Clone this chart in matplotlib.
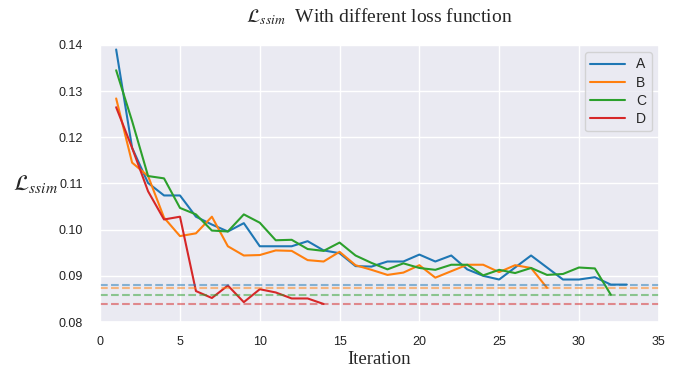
import matplotlib
matplotlib.use("Agg")
import matplotlib.pyplot as plt
import seaborn as sns
import numpy as np

sns.set_theme(style="darkgrid")
plt.rcParams['font.family'] = ['Liberation Sans', 'DejaVu Sans']
plt.rcParams['mathtext.fontset'] = 'stix'

series_names = ["A", "B", "C", "D"]
A = [0.1390, 0.1177, 0.1101, 0.1074, 0.1074, 0.1028, 0.1011, 0.0996, 0.1014, 0.0964,
     0.0964, 0.0964, 0.0975, 0.0955, 0.0949, 0.0921, 0.0920, 0.0931, 0.0931, 0.0946,
     0.0931, 0.0944, 0.0914, 0.0900, 0.0892, 0.0918, 0.0944, 0.0918, 0.0892, 0.0892,
     0.0897, 0.0881, 0.0881]
B = [0.1284, 0.1145, 0.1116, 0.1026, 0.0986, 0.0992, 0.1028, 0.0964, 0.0944, 0.0945,
     0.0955, 0.0954, 0.0934, 0.0931, 0.0952, 0.0923, 0.0913, 0.0902, 0.0907, 0.0923,
     0.0896, 0.0910, 0.0924, 0.0924, 0.0908, 0.0923, 0.0917, 0.0874]
C = [0.1345, 0.1235, 0.1116, 0.1111, 0.1047, 0.1033, 0.0998, 0.0996, 0.1033, 0.1015,
     0.0977, 0.0978, 0.0958, 0.0954, 0.0972, 0.0944, 0.0928, 0.0914, 0.0927, 0.0917,
     0.0913, 0.0924, 0.0924, 0.0901, 0.0913, 0.0906, 0.0917, 0.0902, 0.0904, 0.0918,
     0.0916, 0.0859]
D = [0.1265, 0.1177, 0.1083, 0.1022, 0.1028, 0.0867, 0.0852, 0.0879, 0.0843, 0.0871,
     0.0864, 0.0851, 0.0851, 0.0839]
all_series = [A, B, C, D]
colors = ["#1f77b4", "#ff7f0e", "#2ca02c", "#d62728"]

fig = plt.figure(figsize=(6.77, 3.74), dpi=100)
ax = fig.add_axes([0.148, 0.139, 0.825, 0.741])

for name, vals, col in zip(series_names, all_series, colors):
    x = np.arange(1, len(vals) + 1)
    ax.plot(x, vals, color=col, lw=1.5, label=name)
for vals, col in zip(all_series, colors):
    ax.axhline(min(vals), color=col, lw=1.5, ls='--', alpha=0.5)

ax.set_xlim(0, 35)
ax.set_ylim(0.08, 0.14)
ax.set_xticks(np.arange(0, 36, 5))
ax.set_yticks([0.08, 0.09, 0.10, 0.11, 0.12, 0.13, 0.14])
ax.set_yticklabels(["0.08", "0.09", "0.10", "0.11", "0.12", "0.13", "0.14"])
ax.tick_params(axis='y', labelsize=9, colors='#222222', pad=6.5)
ax.tick_params(axis='x', labelsize=9, colors='#222222', pad=4)

ax.set_title(r"$\mathcal{L}_{ssim}$  With different loss function",
             family='Liberation Serif', fontsize=14, pad=16)
ax.set_xlabel("Iteration", family='Liberation Serif', fontsize=13.5, labelpad=2)
ax.set_ylabel(r"$\mathcal{L}_{ssim}$", fontsize=16, rotation=0)
ax.yaxis.set_label_coords(-0.115, 0.46)

ax.legend(loc='upper right', fontsize=10, frameon=True, handlelength=2.5,
          borderpad=0.4, labelspacing=0.3)

fig.savefig("out.png", dpi=100)
